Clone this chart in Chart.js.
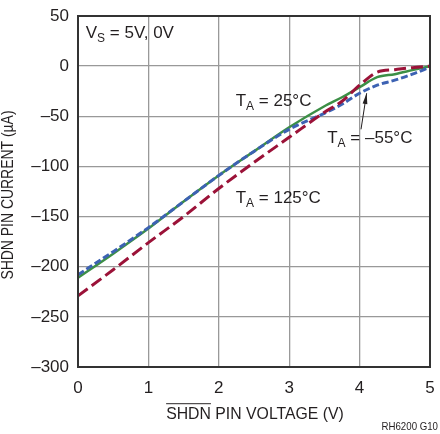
<!DOCTYPE html>
<html>
<head>
<meta charset="utf-8">
<script src="https://cdn.jsdelivr.net/npm/chart.js@4/dist/chart.umd.min.js"></script>
<style>
  html, body { margin: 0; padding: 0; background: #fff; }
  #wrap { width: 440px; height: 434px; position: relative; }
</style>
</head>
<body>
<div id="wrap"><canvas id="c"></canvas></div>
<script>
const FONT = '"Liberation Sans", Arial, sans-serif'
const INK = '#231f20'

// SHDN pin voltage (V) and current (µA) for each temperature
const voltage = [0, 0.5, 1, 1.5, 2, 2.5, 3, 3.5, 3.75, 4, 4.25, 4.5, 4.75, 5]
const i125 = [-229, -203, -176, -150, -122, -96, -71, -46, -35, -19, -6, -3.5, -1.5, 0]
const iMinus55 = [-208, -185, -161, -135, -109, -85, -63, -47, -38, -27, -19, -14, -8, -1]
const i25 = [-211, -187, -162, -135, -109, -85, -61, -40, -31, -21, -11, -8, -4, 0]

const xTicks = [0, 1, 2, 3, 4, 5]
const yTicks = [50, 0, -50, -100, -150, -200, -250, -300]

const pts = ys => voltage.map((v, i) => ({ x: v, y: ys[i] }))

// text with a subscript, e.g. T_A = 25°C
function subText(ctx, x, y, main, sub, rest, size) {
  ctx.save()
  ctx.fillStyle = INK
  ctx.textBaseline = 'alphabetic'
  ctx.textAlign = 'left'
  ctx.font = size + 'px ' + FONT
  ctx.fillText(main, x, y)
  x += ctx.measureText(main).width
  ctx.font = Math.round(size * 0.72) + 'px ' + FONT
  ctx.fillText(sub, x, y + 4)
  x += ctx.measureText(sub).width
  ctx.font = size + 'px ' + FONT
  ctx.fillText(rest, x, y)
  ctx.restore()
}

// label with a bar over the first word (active-low pin name), squeezed by sx
function overlined(ctx, cx, cy, bar, rest, size, sx) {
  ctx.save()
  ctx.translate(cx, cy)
  ctx.scale(sx, 1)
  ctx.font = size + 'px ' + FONT
  const wBar = ctx.measureText(bar).width
  const w = ctx.measureText(bar + rest).width
  const x0 = -w / 2
  ctx.fillStyle = INK
  ctx.textAlign = 'left'
  ctx.textBaseline = 'alphabetic'
  ctx.fillText(bar + rest, x0, 0)
  ctx.strokeStyle = INK
  ctx.lineWidth = 1
  ctx.beginPath()
  ctx.moveTo(x0, -size * 0.9)
  ctx.lineTo(x0 + wBar, -size * 0.9)
  ctx.stroke()
  ctx.restore()
}

const decor = {
  id: 'decor',
  afterDraw(chart) {
    const { ctx, chartArea: a, scales } = chart
    const px = v => scales.x.getPixelForValue(v)
    const py = v => scales.y.getPixelForValue(v)

    // frame
    ctx.save()
    ctx.strokeStyle = '#333'
    ctx.lineWidth = 2
    ctx.strokeRect(a.left, a.top, a.right - a.left, a.bottom - a.top)
    ctx.restore()

    subText(ctx, px(0.11), py(28), 'V', 'S', ' = 5V, 0V', 17)
    subText(ctx, px(2.24), py(-40), 'T', 'A', ' = 25\u00b0C', 17)
    subText(ctx, px(3.54), py(-77), 'T', 'A', ' = \u201355\u00b0C', 17)
    subText(ctx, px(2.24), py(-136), 'T', 'A', ' = 125\u00b0C', 17)

    // arrow to the -55°C curve
    ctx.save()
    ctx.strokeStyle = INK
    ctx.fillStyle = INK
    ctx.lineWidth = 1
    const x1 = px(4.02), y1 = py(-63), x2 = px(4.1), y2 = py(-27)
    ctx.beginPath()
    ctx.moveTo(x1, y1)
    ctx.lineTo(x2, y2)
    ctx.stroke()
    const ang = Math.atan2(y2 - y1, x2 - x1)
    ctx.beginPath()
    ctx.moveTo(x2, y2)
    ctx.lineTo(x2 - 11 * Math.cos(ang - 0.22), y2 - 11 * Math.sin(ang - 0.22))
    ctx.lineTo(x2 - 11 * Math.cos(ang + 0.22), y2 - 11 * Math.sin(ang + 0.22))
    ctx.closePath()
    ctx.fill()
    ctx.restore()

    // axis titles
    overlined(ctx, 255, 419, 'SHDN', ' PIN VOLTAGE (V)', 17, 0.93)
    ctx.save()
    ctx.translate(13, 195)
    ctx.rotate(-Math.PI / 2)
    overlined(ctx, 0, 0, 'SHDN', ' PIN CURRENT (\u00b5A)', 17, 0.82)
    ctx.restore()

    ctx.save()
    ctx.translate(438, 430)
    ctx.scale(0.88, 1)
    ctx.font = '11px ' + FONT
    ctx.fillStyle = INK
    ctx.textAlign = 'right'
    ctx.fillText('RH6200 G10', 0, 0)
    ctx.restore()
  }
}

new Chart(document.getElementById('c'), {
  type: 'line',
  data: {
    datasets: [
      { label: '125°C', data: pts(i125), borderColor: '#9b1238', borderWidth: 3, borderDash: [12, 5] },
      { label: '-55°C', data: pts(iMinus55), borderColor: '#3d62b3', borderWidth: 3, borderDash: [7, 3] },
      { label: '25°C', data: pts(i25), borderColor: '#3c8f46', borderWidth: 2.5 },
    ],
  },
  options: {
    responsive: true,
    maintainAspectRatio: false,
    animation: false,
    layout: { padding: { top: 16, right: 10, left: 0, bottom: 0 } },
    elements: { point: { radius: 0 }, line: { cubicInterpolationMode: 'monotone', borderCapStyle: 'butt' } },
    plugins: { legend: { display: false }, tooltip: { enabled: false } },
    scales: {
      x: {
        type: 'linear',
        min: 0,
        max: 5,
        afterFit: s => { s.height = 67; s.paddingLeft = 0; s.paddingRight = 0 },
        afterBuildTicks: s => { s.ticks = xTicks.map(v => ({ value: v })) },
        grid: { color: '#999', lineWidth: 1.3, drawTicks: false },
        border: { color: '#333', width: 2 },
        ticks: { color: INK, padding: 11, font: { size: 17, family: FONT } },
      },
      y: {
        min: -300,
        max: 50,
        afterFit: s => { s.width = 78; s.paddingTop = 0; s.paddingBottom = 0 },
        afterBuildTicks: s => { s.ticks = yTicks.map(v => ({ value: v })) },
        grid: { color: '#999', lineWidth: 1.3, drawTicks: false },
        border: { color: '#333', width: 2 },
        ticks: {
          color: INK,
          padding: 9,
          font: { size: 17, family: FONT },
          callback: v => (v < 0 ? '\u2013' + Math.abs(v) : String(v)),
        },
      },
    },
  },
  plugins: [decor],
})
</script>
</body>
</html>
